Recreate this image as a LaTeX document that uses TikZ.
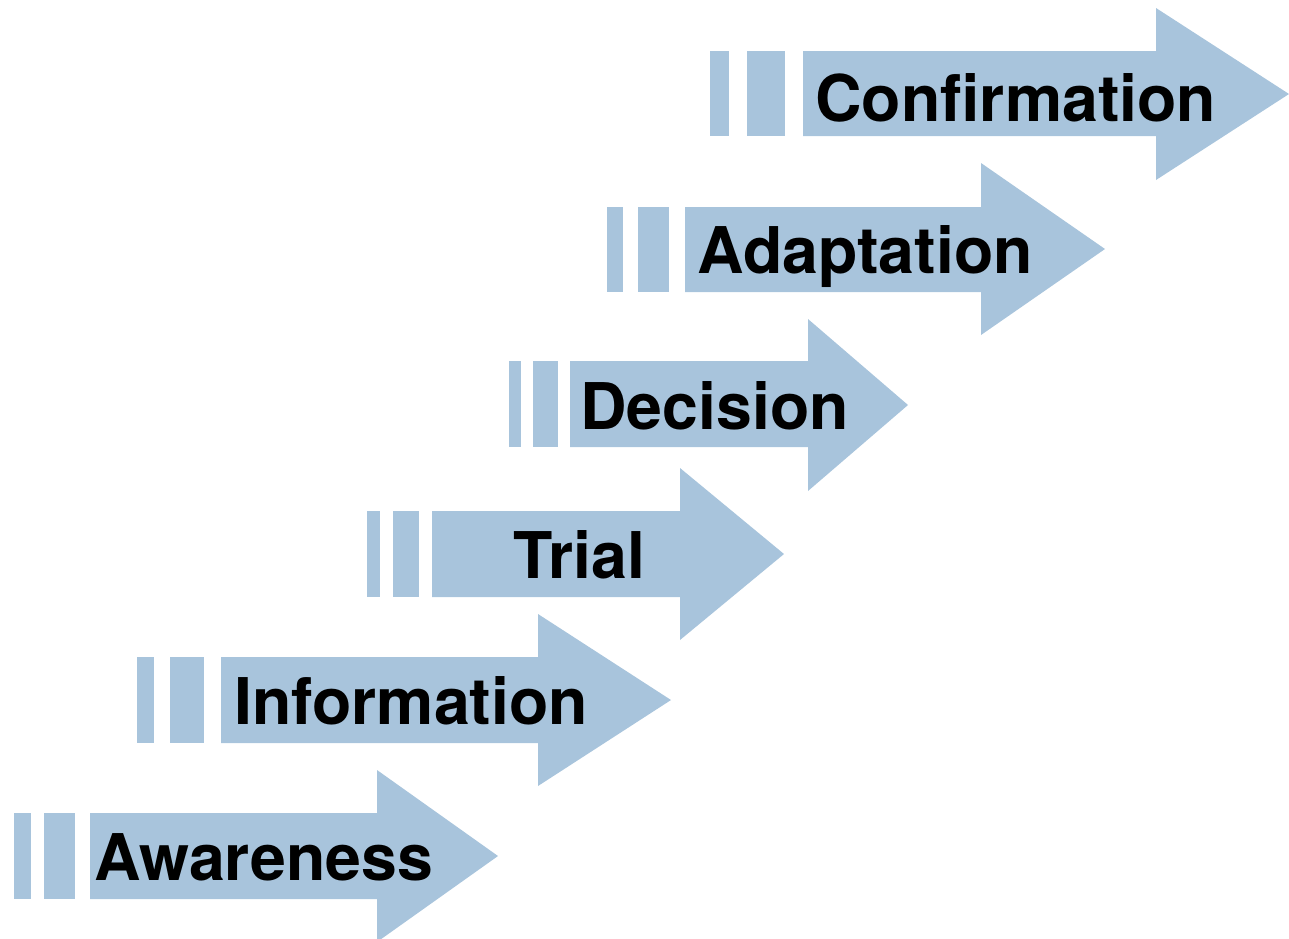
\documentclass[tikz,border=0pt]{standalone}
\usepackage{fontspec}
\setmainfont{TeX Gyre Heros}
\usepackage{xcolor}
\definecolor{stageblue}{HTML}{A8C4DC}
\tikzset{
    stage/.style={fill=stageblue},
    label/.style={anchor=base west, inner sep=0pt, font=\fontsize{32.2}{36}\selectfont\bfseries}
}

\begin{document}
\begin{tikzpicture}[x=0.5pt,y=-0.5pt]
        \useasboundingbox (0,0) rectangle (1289,938);

        % Awareness
        \fill[stage] (14,813) rectangle (31,899);
        \fill[stage] (44,813) rectangle (75,899);
        \fill[stage] (90,813) -- (377,813) -- (377,770) -- (498,856) -- (377,942) -- (377,899) -- (90,899) -- cycle;

        % Information
        \fill[stage] (137,657) rectangle (154,743);
        \fill[stage] (170,657) rectangle (204,743);
        \fill[stage] (221,657) -- (538,657) -- (538,614) -- (671,700) -- (538,786) -- (538,743) -- (221,743) -- cycle;

        % Trial
        \fill[stage] (367,511) rectangle (380,597);
        \fill[stage] (393,511) rectangle (419,597);
        \fill[stage] (432,511) -- (680,511) -- (680,468) -- (784,554) -- (680,640) -- (680,597) -- (432,597) -- cycle;

        % Decision
        \fill[stage] (509,361) rectangle (521,447);
        \fill[stage] (533,361) rectangle (558,447);
        \fill[stage] (570,361) -- (808,361) -- (808,319) -- (908,405) -- (808,491) -- (808,447) -- (570,447) -- cycle;

        % Adaptation
        \fill[stage] (607,207) rectangle (623,292);
        \fill[stage] (638,207) rectangle (669,292);
        \fill[stage] (685,207) -- (981,207) -- (981,163) -- (1105,249) -- (981,335) -- (981,292) -- (685,292) -- cycle;

        % Confirmation
        \fill[stage] (710,51) rectangle (729,136);
        \fill[stage] (747,51) rectangle (785,136);
        \fill[stage] (803,51) -- (1156,51) -- (1156,8) -- (1289,94) -- (1156,180) -- (1156,136) -- (803,136) -- cycle;

        \node[label] (awareness) at (94,880) {Awareness};
        \node[label] (information) at (234,724) {Information};
        \node[label] (trial) at (513,578) {Trial};
        \node[label] (decision) at (580,429) {Decision};
        \node[label] (adaptation) at (697,273) {Adaptation};
        \node[label] (confirmation) at (815,121) {Confirmation};
    \end{tikzpicture}
\end{document}
